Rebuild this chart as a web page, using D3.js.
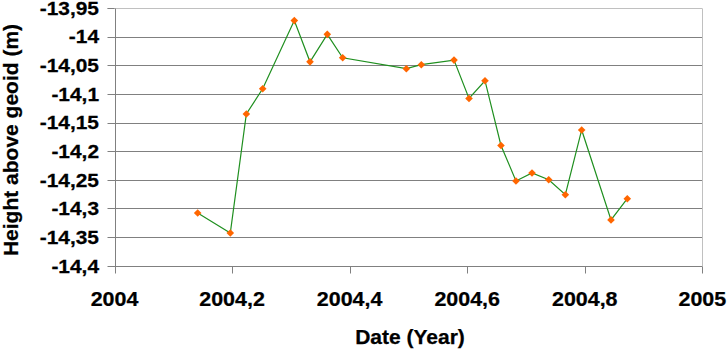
<!DOCTYPE html>
<html><head><meta charset="utf-8">
<script src="https://cdn.jsdelivr.net/npm/d3@7"></script>
<style>
html,body{margin:0;padding:0;background:#fff;}
svg{display:block;}
text{font-family:"Liberation Sans",Arial,sans-serif;font-weight:bold;fill:#000;stroke:#000;stroke-width:0.25px;}
</style></head>
<body><svg id="c" width="728" height="349"></svg>
<script>
const dates = [2004.1415,2004.197,2004.2243,2004.2521,2004.3059,2004.3326,2004.362,2004.3882,2004.4965,2004.522,2004.5776,2004.6031,2004.6303,2004.6575,2004.683,2004.7103,2004.7387,2004.767,2004.7948,2004.8447,2004.8724];
const heights = [-14.308,-14.343,-14.135,-14.091,-13.972,-14.044,-13.996,-14.037,-14.056,-14.049,-14.041,-14.108,-14.077,-14.190,-14.252,-14.238,-14.250,-14.276,-14.163,-14.320,-14.283];
const xTicks = [2004,2004.2,2004.4,2004.6,2004.8,2005];
const yTicks = [-13.95,-14,-14.05,-14.1,-14.15,-14.2,-14.25,-14.3,-14.35,-14.4];
const xTitle = "Date (Year)";
const yTitle = "Height above geoid (m)";

const fmt = v => String(+v.toFixed(2)).replace(".", ",");
const svg = d3.select("#c");
const L = 114.5, R = 702.3, T = 8, B = 265.7;
const x = d3.scaleLinear().domain([2004,2005]).range([L,R]);
const y = d3.scaleLinear().domain([-13.95,-14.4]).range([T,B]);

// gridlines
svg.append("g").selectAll("line").data(yTicks).join("line")
  .attr("x1", L-7).attr("x2", R)
  .attr("y1", d => Math.round(y(d))+0.5).attr("y2", d => Math.round(y(d))+0.5)
  .attr("stroke", d => d === -13.95 ? "#c0c0c0" : "#808080").attr("stroke-width",1);
svg.append("line").attr("x1",L-7).attr("x2",L).attr("y1",Math.round(y(-13.95))+0.5).attr("y2",Math.round(y(-13.95))+0.5).attr("stroke","#808080");
// right border
svg.append("line").attr("x1",Math.round(R)+0.5).attr("x2",Math.round(R)+0.5).attr("y1",Math.round(T)+0.5).attr("y2",Math.round(B)+0.5).attr("stroke","#c0c0c0");
// left axis
svg.append("line").attr("x1",Math.round(L)+0.5).attr("x2",Math.round(L)+0.5).attr("y1",Math.round(T)+0.5).attr("y2",Math.round(B)+0.5).attr("stroke","#808080");
// bottom axis ticks
svg.append("g").selectAll("line").data(xTicks).join("line")
  .attr("x1", d => Math.round(x(d))+0.5).attr("x2", d => Math.round(x(d))+0.5)
  .attr("y1", Math.round(B)+0.5).attr("y2", Math.round(B)+7.5)
  .attr("stroke","#808080");

// y tick labels
svg.append("g").selectAll("text").data(yTicks).join("text")
  .attr("transform", d => `translate(99,${y(d)+6.8}) scale(1.13,1)`)
  .attr("text-anchor","end").attr("font-size","18.5px").text(fmt);
// x tick labels
svg.append("g").selectAll("text").data(xTicks).join("text")
  .attr("transform", d => `translate(${x(d)},305.5) scale(1.1,1)`)
  .attr("text-anchor","middle").attr("font-size","19.5px").text(fmt);
// titles
svg.append("text").attr("x",410).attr("y",344).attr("text-anchor","middle").attr("font-size","21px").text(xTitle);
svg.append("text").attr("transform","translate(18,140) rotate(-90)").attr("text-anchor","middle").attr("font-size","21px").text(yTitle);

const pts = dates.map((d,i)=>[d,heights[i]]);
svg.append("path").datum(pts)
  .attr("d", d3.line().x(d=>x(d[0])).y(d=>y(d[1])))
  .attr("fill","none").attr("stroke","#1f8f1f").attr("stroke-width",1.2);
const r = 3.8;
svg.append("g").selectAll("path").data(pts).join("path")
  .attr("d", d => `M${x(d[0])},${y(d[1])-r}L${x(d[0])+r},${y(d[1])}L${x(d[0])},${y(d[1])+r}L${x(d[0])-r},${y(d[1])}Z`)
  .attr("fill","#ff6600");
</script></body></html>
